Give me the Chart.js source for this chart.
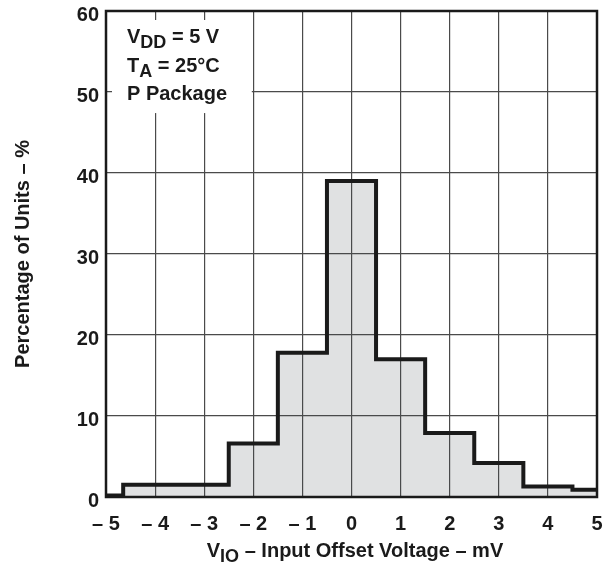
<!DOCTYPE html>
<html>
<head>
<meta charset="utf-8">
<script src="https://cdn.jsdelivr.net/npm/chart.js@4/dist/chart.umd.min.js"></script>
<style>
  html, body { margin: 0; padding: 0; background: #fff; }
  #wrap { width: 614px; height: 567px; }
</style>
</head>
<body>
<div id="wrap"><canvas id="histChart"></canvas></div>
<script>
// bin left edges (mV) and percentage of units in each bin
const binEdges = [-5, -4.65, -2.5, -1.5, -0.5, 0.5, 1.5, 2.5, 3.5, 4.5];
const binEnd = 5;
const percentages = [0.2, 1.5, 6.6, 17.8, 39, 17, 7.9, 4.2, 1.3, 0.9];
const xTicks = [-5, -4, -3, -2, -1, 0, 1, 2, 3, 4, 5];
const yTicks = [0, 10, 20, 30, 40, 50, 60];
const FONT = "'Liberation Sans', Arial, sans-serif";

const points = binEdges.map((x, i) => ({ x, y: percentages[i] }));
points.push({ x: binEnd, y: percentages[percentages.length - 1] });

// draws text with a lowered subscript part, e.g. V + DD + " = 5 V"
function drawSub(ctx, x, y, parts) {
  parts.forEach(p => {
    ctx.font = `bold ${p.sub ? 18 : 20}px ${FONT}`;
    ctx.fillText(p.t, x, y + (p.sub ? 5 : 0));
    x += ctx.measureText(p.t).width;
  });
}
function subWidth(ctx, parts) {
  let w = 0;
  parts.forEach(p => {
    ctx.font = `bold ${p.sub ? 18 : 20}px ${FONT}`;
    w += ctx.measureText(p.t).width;
  });
  return w;
}

const annotations = {
  id: 'annotations',
  beforeDatasetsDraw(chart) {
    const { ctx, chartArea: a, scales } = chart;
    // white box behind the conditions text hides the grid
    const right = scales.x.getPixelForValue(-2) - 1.5;
    const bottom = scales.y.getPixelForValue(47.4);
    ctx.save();
    ctx.fillStyle = '#fff';
    ctx.fillRect(a.left + 6, a.top + 9, right - a.left - 6, bottom - a.top - 9);
    ctx.fillStyle = '#1a1a1a';
    ctx.textBaseline = 'alphabetic';
    drawSub(ctx, a.left + 21, a.top + 32, [{ t: 'V' }, { t: 'DD', sub: true }, { t: ' = 5 V' }]);
    drawSub(ctx, a.left + 21, a.top + 61, [{ t: 'T' }, { t: 'A', sub: true }, { t: ' = 25°C' }]);
    drawSub(ctx, a.left + 21, a.top + 89, [{ t: 'P Package' }]);
    ctx.restore();
  },
  afterDatasetsDraw(chart) {
    const { ctx, chartArea: a } = chart;
    ctx.save();
    ctx.strokeStyle = '#1a1a1a';
    ctx.lineWidth = 2.5;
    ctx.strokeRect(a.left, a.top, a.right - a.left, a.bottom - a.top);
    ctx.restore();
  },
  afterDraw(chart) {
    const { ctx } = chart;
    const parts = [{ t: 'V' }, { t: 'IO', sub: true }, { t: ' – Input Offset Voltage – mV' }];
    ctx.save();
    ctx.fillStyle = '#1a1a1a';
    ctx.textBaseline = 'alphabetic';
    const w = subWidth(ctx, parts);
    drawSub(ctx, 355 - w / 2, 557, parts);
    ctx.restore();
  }
};

new Chart(document.getElementById('histChart'), {
  type: 'line',
  data: {
    datasets: [{
      data: points,
      stepped: 'before',
      borderColor: '#1a1a1a',
      borderWidth: 4,
      backgroundColor: 'rgba(70,75,85,0.17)',
      fill: 'origin',
      pointRadius: 0,
      borderJoinStyle: 'miter'
    }]
  },
  options: {
    responsive: true,
    maintainAspectRatio: false,
    animation: false,
    layout: { padding: { left: 0, top: 11, right: 17, bottom: 0 } },
    plugins: { legend: { display: false }, tooltip: { enabled: false } },
    scales: {
      x: {
        type: 'linear',
        min: -5, max: 5,
        afterBuildTicks: s => { s.ticks = xTicks.map(v => ({ value: v })); },
        afterFit: s => { s.height = 70; },
        grid: { color: '#4a4a4a', lineWidth: 1.2, drawTicks: false },
        border: { display: false },
        ticks: {
          padding: 3,
          color: '#1a1a1a',
          font: { family: FONT, size: 20, weight: 'bold', lineHeight: 2.4 },
          maxRotation: 0,
          callback: v => v < 0 ? '– ' + Math.abs(v) : String(v)
        }
      },
      y: {
        min: 0, max: 60,
        afterBuildTicks: s => { s.ticks = yTicks.map(v => ({ value: v })); },
        afterFit: s => { s.width = 106; },
        grid: { color: '#4a4a4a', lineWidth: 1.2, drawTicks: false },
        border: { display: false },
        ticks: {
          padding: 7,
          labelOffset: 4,
          color: '#1a1a1a',
          font: { family: FONT, size: 20, weight: 'bold', lineHeight: 0.4 }
        },
        title: {
          display: true,
          text: 'Percentage of Units – %',
          color: '#1a1a1a',
          font: { family: FONT, size: 20, weight: 'bold' },
          padding: { top: 11, bottom: 0 }
        }
      }
    }
  },
  plugins: [annotations]
});
</script>
</body>
</html>
